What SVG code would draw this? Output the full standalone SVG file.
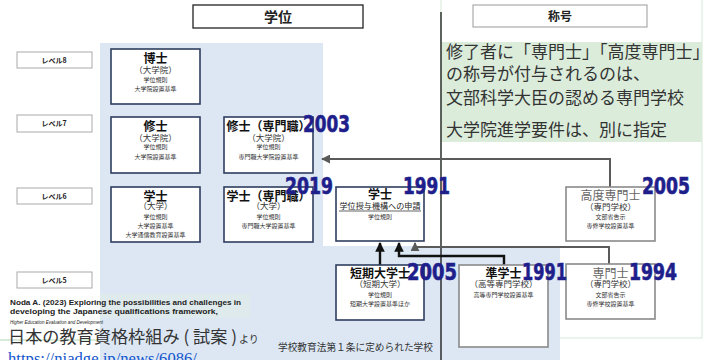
<svg xmlns="http://www.w3.org/2000/svg" width="721" height="360" viewBox="0 0 721 360">
<defs>
<style>
.jp{font-family:"Noto Sans CJK JP","Noto Sans",sans-serif}
.node{fill:#fff;stroke:#2f3d5e;stroke-width:1.6}
.gnode{fill:#fff;stroke:#8a8a8a;stroke-width:1.6}
.t{font-family:"Noto Sans CJK JP",sans-serif;font-weight:bold;font-size:12px;fill:#111;text-anchor:middle}
.gt{font-family:"Noto Sans CJK JP",sans-serif;font-size:12px;fill:#666;text-anchor:middle}
.s{font-family:"Noto Sans CJK JP",sans-serif;font-size:8.5px;fill:#333;text-anchor:middle}
.xs{font-family:"Noto Sans CJK JP",sans-serif;font-size:6px;fill:#333;text-anchor:middle}
.yr{font-family:"DejaVu Sans Condensed","DejaVu Sans",sans-serif;font-weight:bold;font-size:23px;fill:#1f1f8c;stroke:#1f1f8c;stroke-width:0.6}
.lv{fill:#fff;stroke:#aaa;stroke-width:1}
.lvt{font-family:"Noto Sans CJK JP",sans-serif;font-weight:bold;font-size:7px;fill:#222;text-anchor:middle}
.blk{fill:none;stroke:#111;stroke-width:2.4}
.gry{fill:none;stroke:#5a5a5a;stroke-width:2}
.gr{font-family:"Noto Sans CJK JP",sans-serif;font-size:17px;fill:#333}
</style>
<marker id="ab" viewBox="0 0 10 10" refX="9" refY="5" markerWidth="4" markerHeight="4" orient="auto"><path d="M0,0 L10,5 L0,10 z" fill="#111"/></marker>
<marker id="ag" viewBox="0 0 10 10" refX="9" refY="5" markerWidth="4.5" markerHeight="4.5" orient="auto"><path d="M0,0 L10,5 L0,10 z" fill="#5a5a5a"/></marker>
</defs>
<rect width="721" height="360" fill="#fff"/>

<g id="backgrounds">
<rect x="441" y="-1" width="261" height="339" fill="#fff" stroke="#d6ead6" stroke-width="1"/>
<rect x="441" y="42" width="261" height="100" fill="#dbecdb"/>
<path d="M100,43 H323 V246 H560 V360 H100 Z" fill="#dce7f3"/>
<rect x="100" y="294" width="150" height="24" fill="#e3eee6" opacity="0.45"/>
<line x1="0" y1="340" x2="100" y2="340" stroke="#9ccc9c" stroke-width="0.8"/>
<line x1="441" y1="12" x2="441" y2="360" stroke="#000" stroke-width="1.2"/>
</g>

<g id="header-degree">
<rect x="193" y="5" width="170" height="23" fill="#fff" stroke="#222" stroke-width="1.3"/>
<text x="278" y="22" class="jp" font-size="14" font-weight="bold" fill="#222" text-anchor="middle">学位</text>
</g>
<g id="header-title">
<rect x="473" y="5" width="174" height="22" fill="#fff" stroke="#999" stroke-width="1"/>
<text x="560" y="21" class="jp" font-size="12" font-weight="bold" fill="#222" text-anchor="middle">称号</text>
</g>

<g id="note">
<text x="446" y="58" class="gr">修了者に「専門士」「高度専門士」</text>
<text x="446" y="80" class="gr">の称号が付与されるのは、</text>
<text x="446" y="104" class="gr">文部科学大臣の認める専門学校</text>
<text x="446" y="136" class="gr">大学院進学要件は、別に指定</text>
</g>

<g id="levels">
<rect class="lv" x="17" y="52" width="75" height="16"/><text class="lvt" x="54" y="63">レベル8</text>
<rect class="lv" x="17" y="115" width="75" height="17"/><text class="lvt" x="54" y="126">レベル7</text>
<rect class="lv" x="17" y="188" width="75" height="16"/><text class="lvt" x="54" y="199">レベル6</text>
<rect class="lv" x="17" y="272" width="75" height="16"/><text class="lvt" x="54" y="283">レベル5</text>
</g>

<g id="connectors">
<path class="gry" d="M610,187 V159 H322" marker-end="url(#ag)"/>
<path class="blk" d="M380,265 V243" marker-end="url(#ab)"/>
<path class="blk" d="M504,265 V256 H399 V243" marker-end="url(#ab)"/>
<path class="gry" d="M609,264 V247 H415 V243" marker-end="url(#ag)"/>
</g>

<g id="hakushi">
<rect class="node" x="111" y="49" width="89" height="55"/>
<text class="t" x="155.5" y="63">博士</text>
<text class="s" x="155.5" y="73">（大学院）</text>
<text class="xs" x="155.5" y="82">学位規則</text>
<text class="xs" x="155.5" y="91">大学院設置基準</text>
</g>
<g id="shushi">
<rect class="node" x="111" y="117" width="89" height="56"/>
<text class="t" x="155.5" y="131">修士</text>
<text class="s" x="155.5" y="141">（大学院）</text>
<text class="xs" x="155.5" y="149">学位規則</text>
<text class="xs" x="155.5" y="159">大学院設置基準</text>
</g>
<g id="shushi-senmon">
<rect class="node" x="224" y="117" width="89" height="56"/>
<text class="t" x="268.5" y="131">修士（専門職）</text>
<text class="s" x="268.5" y="141">（大学院）</text>
<text class="xs" x="268.5" y="149">学位規則</text>
<text class="xs" x="268.5" y="159">専門職大学院設置基準</text>
</g>
<g id="gakushi">
<rect class="node" x="111" y="187" width="89" height="55"/>
<text class="t" x="155.5" y="201">学士</text>
<text class="s" x="155.5" y="209">（大学）</text>
<text class="xs" x="155.5" y="219">学位規則</text>
<text class="xs" x="155.5" y="228">大学設置基準</text>
<text class="xs" x="155.5" y="237">大学通信教育設置基準</text>
</g>
<g id="gakushi-senmon">
<rect class="node" x="224" y="187" width="89" height="55"/>
<text class="t" x="268.5" y="201">学士（専門職）</text>
<text class="s" x="268.5" y="209">（大学）</text>
<text class="xs" x="268.5" y="219">学位規則</text>
<text class="xs" x="268.5" y="228">専門職大学設置基準</text>
</g>
<g id="gakushi-kikou">
<rect class="node" x="336" y="187" width="88" height="54"/>
<text class="t" x="380" y="199">学士</text>
<text class="jp" x="380" y="209" font-size="8" fill="#222" text-anchor="middle" textLength="81" lengthAdjust="spacingAndGlyphs">学位授与機構への申請</text>
<line x1="339" y1="211" x2="421" y2="211" stroke="#222" stroke-width="0.7"/>
<text class="xs" x="380" y="219">学位規則</text>
</g>
<g id="tanki">
<rect class="node" x="336" y="265" width="88" height="55"/>
<text class="t" x="380" y="278">短期大学士</text>
<text class="s" x="380" y="287">（短期大学）</text>
<text class="xs" x="380" y="297">学位規則</text>
<text class="xs" x="380" y="306">短期大学設置基準ほか</text>
</g>
<g id="jungakushi">
<rect class="gnode" x="459" y="265" width="89" height="82"/>
<text class="t" x="503.5" y="278">準学士</text>
<text class="s" x="503.5" y="287">（高等専門学校）</text>
<text class="xs" x="503.5" y="297">高等専門学校設置基準</text>
</g>
<g id="koudo-senmonshi">
<rect class="gnode" x="566" y="187" width="89" height="54"/>
<text class="gt" x="610.5" y="200">高度専門士</text>
<text class="s" x="610.5" y="210">（専門学校）</text>
<text class="xs" x="610.5" y="219">文部省告示</text>
<text class="xs" x="610.5" y="228">専修学校設置基準</text>
</g>
<g id="senmonshi">
<rect class="gnode" x="566" y="264" width="89" height="55"/>
<text class="gt" x="610.5" y="278">専門士</text>
<text class="s" x="610.5" y="287">（専門学校）</text>
<text class="xs" x="610.5" y="297">文部省告示</text>
<text class="xs" x="610.5" y="306">専修学校設置基準</text>
</g>

<g id="years">
<text class="yr" x="303" y="132" textLength="47" lengthAdjust="spacingAndGlyphs">2003</text>
<text class="yr" x="285" y="194" textLength="48" lengthAdjust="spacingAndGlyphs">2019</text>
<text class="yr" x="403" y="194" textLength="47" lengthAdjust="spacingAndGlyphs">1991</text>
<text class="yr" x="642" y="194" textLength="48" lengthAdjust="spacingAndGlyphs">2005</text>
<text class="yr" x="407" y="280" textLength="50" lengthAdjust="spacingAndGlyphs">2005</text>
<text class="yr" x="522" y="280" textLength="45" lengthAdjust="spacingAndGlyphs">1991</text>
<text class="yr" x="629" y="280" textLength="48" lengthAdjust="spacingAndGlyphs">1994</text>
</g>

<g id="footer">
<text class="jp" x="278" y="351" font-size="10" fill="#333" textLength="155" lengthAdjust="spacingAndGlyphs">学校教育法第１条に定められた学校</text>
<text x="10" y="305" font-family="Liberation Sans,sans-serif" font-weight="bold" font-size="8" fill="#222" textLength="231" lengthAdjust="spacingAndGlyphs">Noda A. (2023) Exploring the possibilities and challenges in</text>
<text x="10" y="314" font-family="Liberation Sans,sans-serif" font-weight="bold" font-size="8" fill="#222" textLength="208" lengthAdjust="spacingAndGlyphs">developing the Japanese qualifications framework,</text>
<text x="10" y="324" font-family="Liberation Sans,sans-serif" font-style="italic" font-size="5" fill="#222" textLength="93" lengthAdjust="spacingAndGlyphs">Higher Education Evaluation and Development</text>
<text x="8" y="343" class="jp" font-size="17" fill="#333" textLength="229" lengthAdjust="spacingAndGlyphs">日本の教育資格枠組み ( 試案 )</text>
<text x="239" y="343" class="jp" font-size="10" fill="#333">より</text>
<text x="8" y="364" font-family="Liberation Serif,serif" font-size="17" fill="#1155cc" textLength="189" lengthAdjust="spacingAndGlyphs">https://niadge.jp/news/6086/</text>
</g>
</svg>
